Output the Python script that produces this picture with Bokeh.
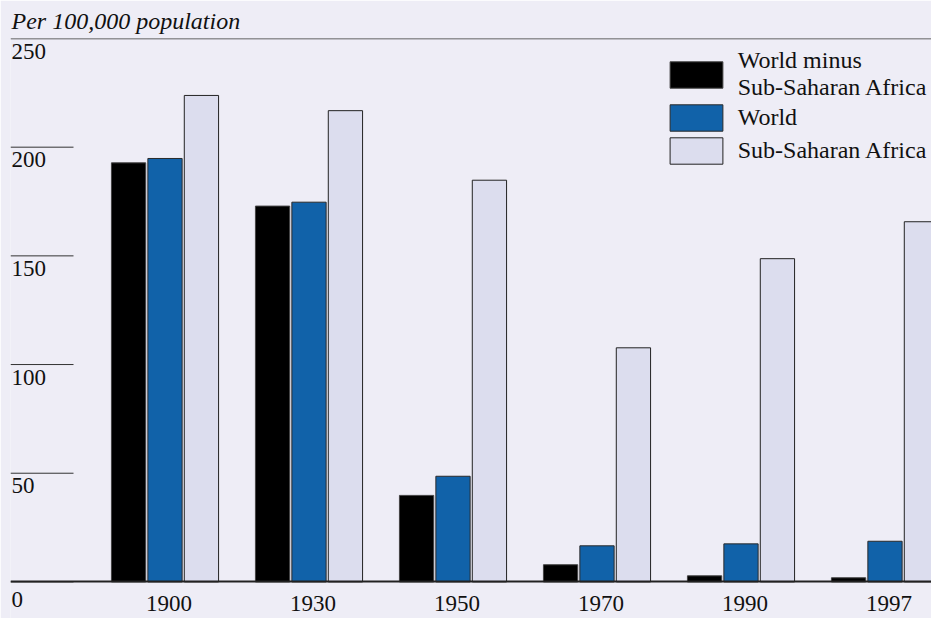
from bokeh.plotting import figure
from bokeh.models import (Range1d, ColumnDataSource, Span, LabelSet, Legend,
                          LegendItem, FixedTicker, CustomJSTickFormatter)
from bokeh.embed import file_html
from bokeh.resources import INLINE

# ---- data ----
years = ["1900", "1930", "1950", "1970", "1990", "1997"]
world_minus_ssa = [192.8, 172.9, 39.8, 7.9, 2.8, 1.9]
world = [194.8, 174.7, 48.6, 16.6, 17.5, 18.7]
ssa = [223.8, 216.8, 184.8, 107.7, 148.7, 165.7]
y_ticks = [0, 50, 100, 150, 200, 250]
series_names = ["World minus\nSub-Saharan Africa", "World", "Sub-Saharan Africa"]

BG = "#EEEDF6"
FONT = "Liberation Serif"
FS = "23px"

W, H = 931, 618
LEFT = 10
TOP = 38               # frame top (below the title)
ZERO_PX = 581.4        # screen y of the zero line
PX_PER_X = 144.0       # pixels per group
x = list(range(len(years)))
x_start = -(164.5 - LEFT) / PX_PER_X
x_end = x_start + (W - LEFT) / PX_PER_X
y_end = y_ticks[-1]
px_per_y = (ZERO_PX - TOP) / y_end
y_start = -(H - ZERO_PX) / px_per_y

p = figure(width=W, height=H, output_backend="svg", toolbar_location=None,
           x_range=Range1d(x_start, x_end), y_range=Range1d(y_start, y_end),
           min_border_left=LEFT, min_border_right=0, min_border_top=TOP,
           min_border_bottom=0)
p.background_fill_color = BG
p.border_fill_color = BG
p.outline_line_color = None
p.xgrid.visible = False
p.ygrid.visible = False
p.yaxis.visible = False

p.title.text = "Per 100,000 population"
p.title.text_font = FONT
p.title.text_font_style = "italic"
p.title.text_font_size = "24px"
p.title.text_color = "#111111"
p.title.align = "left"
p.title.offset = 1

bw = 0.238
r1 = p.vbar(x=[xi - 0.253 for xi in x], top=world_minus_ssa, width=bw, bottom=0,
            fill_color="#000000", line_color="#444444", line_width=1)
r2 = p.vbar(x=x, top=world, width=bw, bottom=0,
            fill_color="#1162A9", line_color="#2a2a2a", line_width=1)
r3 = p.vbar(x=[xi + 0.253 for xi in x], top=ssa, width=bw, bottom=0,
            fill_color="#DCDDEE", line_color="#222222", line_width=1)

# top rule at 250
p.add_layout(Span(location=y_ticks[-1], dimension="width", line_color="#333333",
                  line_width=1.5))

# short tick rules for the y scale
tick_len = 63 / PX_PER_X
inner = y_ticks[:-1]
p.segment(x0=[x_start] * len(inner), x1=[x_start + tick_len] * len(inner),
          y0=inner, y1=inner, line_color="#333333", line_width=1)

lab_src = ColumnDataSource(dict(
    x=[x_start] * len(y_ticks), y=y_ticks, t=[str(v) for v in y_ticks],
    off=[-10.5 if v == 0 else -5 for v in y_ticks]))
p.add_layout(LabelSet(x="x", y="y", text="t", source=lab_src, x_offset=1,
                      y_offset="off", text_align="left", text_baseline="top",
                      text_font=FONT, text_font_size=FS, text_color="#111111"))

# x axis, placed at y = 0
xax = p.xaxis[0]
xax.fixed_location = 0
xax.ticker = FixedTicker(ticks=[xi + 4 / PX_PER_X for xi in x])
xax.formatter = CustomJSTickFormatter(args=dict(labels=years),
                                      code="return labels[Math.round(tick)]")
xax.major_tick_in = 0
xax.major_tick_out = 0
xax.minor_tick_line_color = None
xax.axis_line_color = "#222222"
xax.axis_line_width = 2.2
xax.major_label_standoff = 14
xax.major_label_text_font = FONT
xax.major_label_text_font_size = FS
xax.major_label_text_color = "#111111"

legend = Legend(items=[LegendItem(label=series_names[0], renderers=[r1]),
                       LegendItem(label=series_names[1], renderers=[r2]),
                       LegendItem(label=series_names[2], renderers=[r3])],
                location=(652.7, 451), orientation="vertical",
                glyph_width=66, glyph_height=33, label_standoff=9, spacing=0,
                padding=0, margin=0, background_fill_alpha=0,
                border_line_color=None, label_text_font=FONT,
                label_text_font_size="24px", label_text_color="#111111")
p.add_layout(legend)

html = file_html(p, INLINE)
html = html.replace("<body>", '<body style="background:%s">' % BG, 1)
open("out.html", "w").write(html)
